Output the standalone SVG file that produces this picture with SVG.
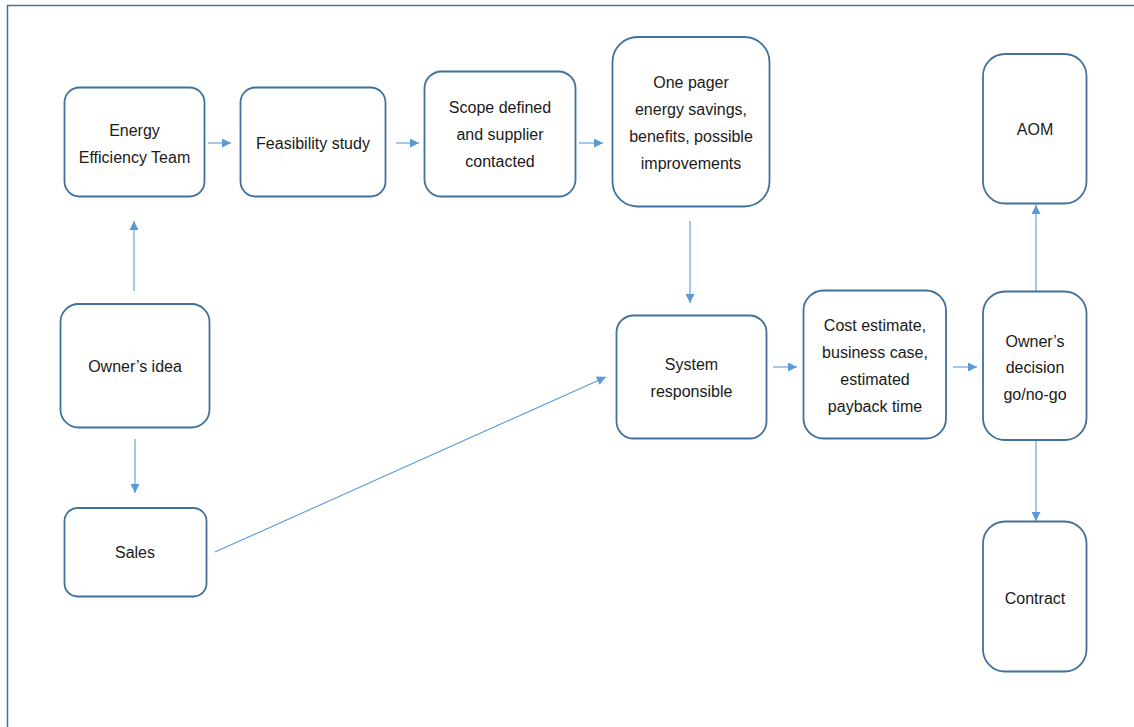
<svg xmlns="http://www.w3.org/2000/svg" width="1134" height="727" viewBox="0 0 1134 727">
  <style>
    .box { fill: #ffffff; stroke: #41719c; stroke-width: 1.8; }
    .lbl { font-family: "Liberation Sans", Arial, sans-serif; font-size: 16px; fill: #1a1a1a; text-anchor: middle; }
    .link { stroke: #5b9bd5; stroke-width: 1.1; fill: none; marker-end: url(#arrow); }
  </style>
  <defs>
    <marker id="arrow" viewBox="0 0 10 10" refX="10" refY="5" markerWidth="10" markerHeight="9" markerUnits="userSpaceOnUse" orient="auto">
      <path d="M0,0 L10,5 L0,10 Z" fill="#5b9bd5"/>
    </marker>
  </defs>

  <rect x="0" y="0" width="1134" height="727" fill="#ffffff"/>
  <!-- page frame -->
  <path d="M7.5,727 V5.5 H1134" fill="none" stroke="#41719c" stroke-width="1.5"/>

  <g id="connectors">
    <line class="link" x1="208" y1="143" x2="231" y2="143"/>
    <line class="link" x1="396" y1="143" x2="419" y2="143"/>
    <line class="link" x1="579" y1="143" x2="603" y2="143"/>
    <line class="link" x1="690" y1="221" x2="690" y2="303"/>
    <line class="link" x1="134" y1="291" x2="134" y2="221"/>
    <line class="link" x1="135" y1="439" x2="135" y2="493"/>
    <line class="link" x1="215" y1="552" x2="606" y2="377"/>
    <line class="link" x1="773" y1="367" x2="797" y2="367"/>
    <line class="link" x1="953" y1="367" x2="977" y2="367"/>
    <line class="link" x1="1036" y1="291" x2="1036" y2="205"/>
    <line class="link" x1="1036" y1="440" x2="1036" y2="521"/>
  </g>

  <g id="energy-efficiency-team">
    <rect class="box" x="64.5" y="87.5" width="140" height="109" rx="15"/>
    <text class="lbl" x="134.5" y="135.5">Energy</text>
    <text class="lbl" x="134.5" y="162.5">Efficiency Team</text>
  </g>

  <g id="feasibility-study">
    <rect class="box" x="240.5" y="87.5" width="145" height="109" rx="15"/>
    <text class="lbl" x="313" y="148.5">Feasibility study</text>
  </g>

  <g id="scope-defined">
    <rect class="box" x="424.5" y="71.5" width="151" height="125" rx="17"/>
    <text class="lbl" x="500" y="112.5">Scope defined</text>
    <text class="lbl" x="500" y="139.5">and supplier</text>
    <text class="lbl" x="500" y="166.5">contacted</text>
  </g>

  <g id="one-pager">
    <rect class="box" x="612.5" y="37" width="157" height="169.5" rx="25"/>
    <text class="lbl" x="691" y="87.5">One pager</text>
    <text class="lbl" x="691" y="114.5">energy savings,</text>
    <text class="lbl" x="691" y="141.5">benefits, possible</text>
    <text class="lbl" x="691" y="168.5">improvements</text>
  </g>

  <g id="aom">
    <rect class="box" x="983" y="54" width="103.5" height="149.5" rx="22"/>
    <text class="lbl" x="1035" y="134.5">AOM</text>
  </g>

  <g id="owners-idea">
    <rect class="box" x="60.5" y="304" width="149" height="123.5" rx="18"/>
    <text class="lbl" x="135" y="371.5">Owner’s idea</text>
  </g>

  <g id="sales">
    <rect class="box" x="64.5" y="508" width="142" height="88.5" rx="13"/>
    <text class="lbl" x="135" y="557.5">Sales</text>
  </g>

  <g id="system-responsible">
    <rect class="box" x="616.5" y="315.5" width="150" height="123" rx="17"/>
    <text class="lbl" x="691.5" y="369.5">System</text>
    <text class="lbl" x="691.5" y="396.5">responsible</text>
  </g>

  <g id="cost-estimate">
    <rect class="box" x="803.5" y="290.5" width="142.5" height="148" rx="20"/>
    <text class="lbl" x="875" y="330.5">Cost estimate,</text>
    <text class="lbl" x="875" y="357.5">business case,</text>
    <text class="lbl" x="875" y="384.5">estimated</text>
    <text class="lbl" x="875" y="411.5">payback time</text>
  </g>

  <g id="owners-decision">
    <rect class="box" x="983" y="291.5" width="103.5" height="148.5" rx="22"/>
    <text class="lbl" x="1035" y="346.5">Owner’s</text>
    <text class="lbl" x="1035" y="372.5">decision</text>
    <text class="lbl" x="1035" y="399.5">go/no-go</text>
  </g>

  <g id="contract">
    <rect class="box" x="983" y="521.5" width="103.5" height="150" rx="22"/>
    <text class="lbl" x="1035" y="603.5">Contract</text>
  </g>
</svg>
